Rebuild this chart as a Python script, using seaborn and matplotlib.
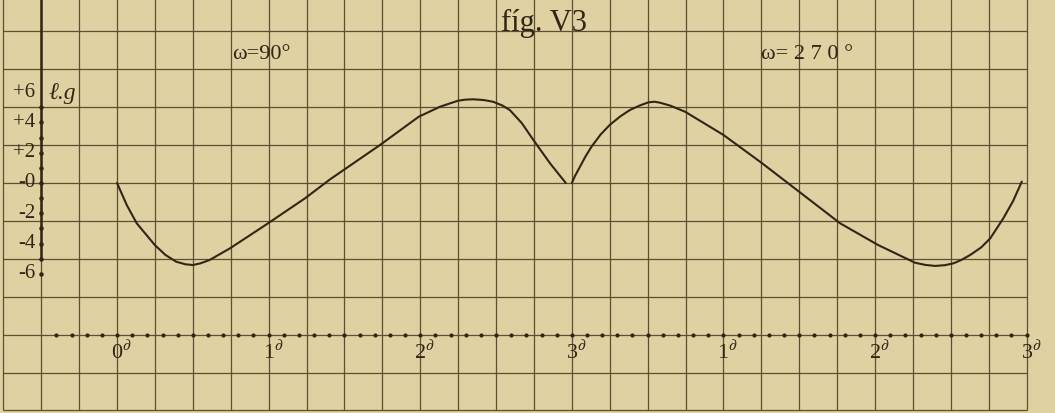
import numpy as np
import pandas as pd
import seaborn as sns
import matplotlib
matplotlib.use("Agg")
import matplotlib.pyplot as plt

# values (phase in units of the period, lg g)
phase_90 = [0.00, 0.064, 0.13, 0.25, 0.32, 0.39, 0.45, 0.50, 0.55, 0.61, 0.745,
            0.99, 1.24, 1.405, 1.735, 1.99, 2.13, 2.25, 2.30, 2.35, 2.42, 2.48,
            2.54, 2.59, 2.67, 2.746, 2.856, 2.96]
lg_90 = [0.0, -1.45, -2.66, -4.10, -4.75, -5.19, -5.36, -5.41, -5.30, -5.08, -4.31,
         -2.70, -1.01, 0.24, 2.51, 4.37, 5.03, 5.43, 5.50, 5.52, 5.47, 5.36,
         5.12, 4.82, 3.95, 2.84, 1.30, 0.0]

phase_270 = [3.00, 3.02, 3.054, 3.09, 3.13, 3.19, 3.25, 3.32, 3.384, 3.45, 3.505,
             3.545, 3.58, 3.65, 3.747, 4.00, 4.25, 4.47, 4.77, 5.02, 5.264, 5.33,
             5.396, 5.46, 5.517, 5.57, 5.627, 5.70, 5.76, 5.846, 5.91, 5.968]
lg_270 = [0.0, 0.45, 1.08, 1.75, 2.40, 3.20, 3.83, 4.40, 4.82, 5.12, 5.32,
          5.36, 5.30, 5.10, 4.70, 3.17, 1.34, -0.35, -2.66, -4.09, -5.26, -5.40,
          -5.47, -5.42, -5.30, -5.07, -4.75, -4.25, -3.65, -2.33, -1.20, 0.09]

x_ticks = [0, 1, 2, 3, 4, 5, 6]
x_tick_labels = ["0", "1", "2", "3", "1", "2", "3"]
y_ticks = [6, 4, 2, 0, -2, -4, -6]
y_tick_labels = ["+6", "+4", "+2", "-0", "-2", "-4", "-6"]

paper = "#dfd1a1"
ink = "#5e4f32"
curve_ink = "#2f2616"

sns.set_style("white")
plt.rcParams["font.family"] = ["Liberation Serif", "DejaVu Serif"]
plt.rcParams["mathtext.fontset"] = "stix"

df = pd.concat([
    pd.DataFrame({"phase": phase_90, "lg": lg_90, "omega": "90"}),
    pd.DataFrame({"phase": phase_270, "lg": lg_270, "omega": "270"}),
])

fig = plt.figure(figsize=(10.55, 4.13), dpi=100)
fig.patch.set_facecolor(paper)
ax = fig.add_axes([0, 0, 1, 1])
ax.set_facecolor(paper)

# graph paper: 0.25 phase x 2.5 lg per square
gx = np.arange(-0.75, 6.01, 0.25)
gy = np.arange(-15, 10.01, 2.5)
ax.vlines(gx, -15, 13, color=ink, lw=0.9, zorder=1)
ax.hlines(gy, -0.75, 6.0, color=ink, lw=0.9, zorder=1)

# lg axis
ax.plot([-0.5, -0.5], [13, -5], color=curve_ink, lw=1.8, zorder=2)
ax.scatter([-0.5] * 12, np.arange(-6, 6), s=5, color=curve_ink, zorder=3)
for v, lab in zip(y_ticks, y_tick_labels):
    ax.text(-0.54, v, lab, ha="right", va="center", fontsize=15, color=curve_ink)
ax.text(-0.45, 5.9, "ℓ.g", ha="left", va="center", fontsize=17,
        style="italic", color=curve_ink)

# phase axis (dotted)
dots = np.arange(-0.4, 6.001, 0.1)
ax.scatter(dots, [-10] * len(dots), s=4, color=curve_ink, zorder=3)
for x, lab in zip(x_ticks, x_tick_labels):
    ax.text(x - 0.04, -11.2, lab + r"$^{\partial}$", ha="left", va="center",
            fontsize=16, color=curve_ink)

sns.lineplot(data=df, x="phase", y="lg", hue="omega", units="omega",
             estimator=None, sort=False, palette=[curve_ink, curve_ink],
             lw=1.5, legend=False, ax=ax, zorder=4)
for line in ax.get_lines():
    line.set_solid_joinstyle("round")
ax.set_xlim(-0.772, 6.187)
ax.set_ylim(-15.17, 12.07)
ax.set_axis_off()

ax.text(2.53, 10.0, "fíg. V3", ha="left", va="baseline", fontsize=22,
        color=curve_ink)
ax.text(0.76, 8.5, "ω=90°", ha="left", va="center", fontsize=16,
        color=curve_ink)
ax.text(4.25, 8.5, "ω= 2 7 0 °", ha="left", va="center", fontsize=16,
        color=curve_ink)

fig.savefig("out.png", dpi=100, facecolor=paper)
